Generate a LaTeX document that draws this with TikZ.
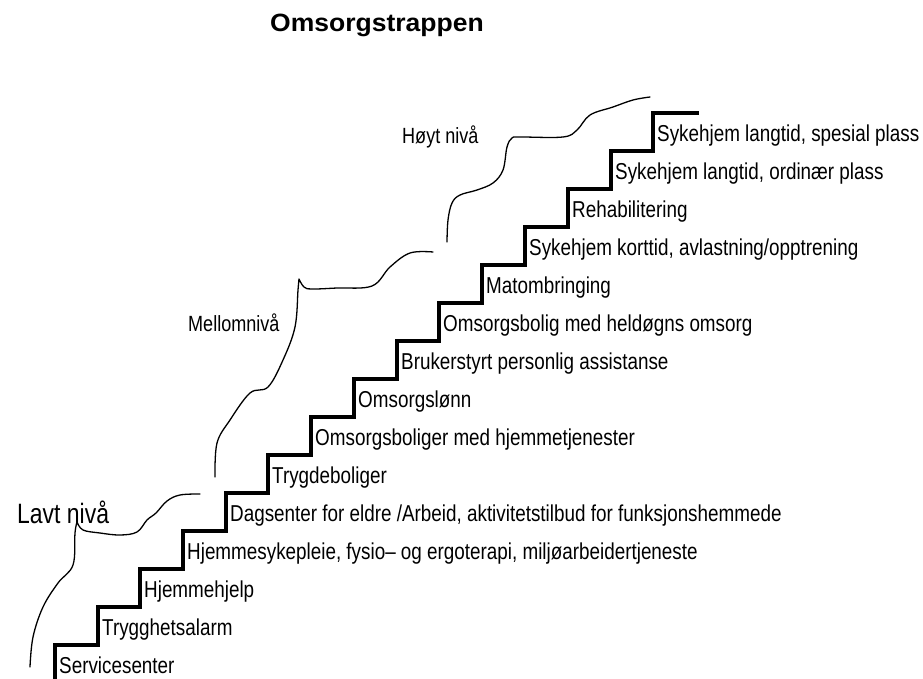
\documentclass[tikz,border=0pt]{standalone}
\usepackage{fontspec}
\setmainfont{Liberation Sans}
\newfontfamily\stepfont[FakeStretch=0.82]{Liberation Sans}
\newfontfamily\levelfont[FakeStretch=0.82]{Liberation Sans}
\newfontfamily\titlefont[FakeStretch=1.06]{Liberation Sans}

\tikzset{
  stair/.style={line width=3.6pt, line join=miter, line cap=rect},
  bracket/.style={line width=1.3pt, line join=round, line cap=round},
  stepname/.style={anchor=base west, inner sep=0pt, font=\stepfont\fontsize{23}{27}\selectfont},
  levelname/.style={anchor=base west, inner sep=0pt, font=\levelfont\fontsize{22}{26}\selectfont}
}

\begin{document}
\begin{tikzpicture}[x=1pt,y=-1pt]
\useasboundingbox (0,0) rectangle (923,679);

\node[anchor=base west, inner sep=0pt, font=\titlefont\bfseries\fontsize{25}{30}\selectfont] (title) at (270,32) {Omsorgstrappen};

% the stairs
\draw[stair] (55,679) -- (55,645) -- (98,645) -- (98,607) -- (140,607) -- (140,569)
  -- (183,569) -- (183,531) -- (226,531) -- (226,493) -- (268,493) -- (268,455)
  -- (311,455) -- (311,417) -- (354,417) -- (354,379) -- (397,379) -- (397,341)
  -- (439,341) -- (439,303) -- (482,303) -- (482,265) -- (525,265) -- (525,227)
  -- (568,227) -- (568,189) -- (611,189) -- (611,151) -- (653,151) -- (653,113)
  -- (697,113);

% one name on each step
\node[stepname] (s0) at (59,673.5) {Servicesenter};
\node[stepname] (s1) at (102,635.5) {Trygghetsalarm};
\node[stepname] (s2) at (144,597.5) {Hjemmehjelp};
\node[stepname] (s3) at (187,559.5) {Hjemmesykepleie, fysio– og ergoterapi, miljøarbeidertjeneste};
\node[stepname] (s4) at (230,521.5) {Dagsenter for eldre /Arbeid, aktivitetstilbud for funksjonshemmede};
\node[stepname] (s5) at (272,483.5) {Trygdeboliger};
\node[stepname] (s6) at (315,445.5) {Omsorgsboliger med hjemmetjenester};
\node[stepname] (s7) at (358,407.5) {Omsorgslønn};
\node[stepname] (s8) at (401,369.5) {Brukerstyrt personlig assistanse};
\node[stepname] (s9) at (443,331.5) {Omsorgsbolig med heldøgns omsorg};
\node[stepname] (s10) at (486,293.5) {Matombringing};
\node[stepname] (s11) at (529,255.5) {Sykehjem korttid, avlastning/opptrening};
\node[stepname] (s12) at (572,217.5) {Rehabilitering};
\node[stepname] (s13) at (615,179.5) {Sykehjem langtid, ordinær plass};
\node[stepname] (s14) at (657,141.5) {Sykehjem langtid, spesial plass};

% levels
\node[anchor=base west, inner sep=0pt, font=\levelfont\fontsize{28}{32}\selectfont] (low) at (17,523) {Lavt nivå};
\node[levelname] (mid) at (188,331.5) {Mellomnivå};
\node[levelname] (high) at (402,143.5) {Høyt nivå};

% hand drawn brackets
\draw[bracket] plot[smooth, tension=0.6] coordinates {(30,667) (33,637) (43,607) (58,583) (73,565) (75,533) (77,522)}
  plot[smooth, tension=0.6] coordinates {(77,522) (83,530) (100,533) (120,535) (137,532) (147,520) (156,513) (167,501) (180,495) (200,494)};
\draw[bracket] plot[smooth, tension=0.6] coordinates {(215,477) (217,443) (230,420) (250,393) (268,387) (283,360) (295,327) (298,290) (299,279)}
  plot[smooth, tension=0.6] coordinates {(299,279) (304,287) (312,289) (337,288) (372,286) (390,267) (410,253) (433,252)};
\draw[bracket] plot[smooth, tension=0.6] coordinates {(447,242) (448,220) (452,203) (460,195) (477,190) (493,183) (503,170) (507,147) (512,138) (520,137) (563,137) (577,130) (590,115) (613,107) (633,100) (650,97)};
\end{tikzpicture}
\end{document}
